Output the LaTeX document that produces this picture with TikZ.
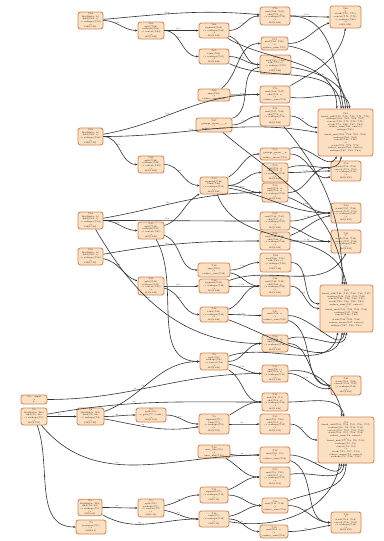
\documentclass[tikz,border=0pt]{standalone}
\usetikzlibrary{arrows.meta}
\definecolor{opfill}{RGB}{252,224,194}
\definecolor{opline}{RGB}{210,132,84}
\definecolor{edgecol}{RGB}{50,50,50}
\begin{document}
\begin{tikzpicture}[x=1pt,y=-1pt,
  op/.style={draw=opline, fill=opfill, line width=0.85pt, rounded corners=2.5pt,
    inner sep=0.6pt, align=center, font=\fontsize{2.1}{2.65}\selectfont},
  e/.style={draw=edgecol, line width=0.6pt, -{Stealth[length=2.4pt,width=2pt]}},
  lbl/.style={font=\fontsize{2}{2.3}\selectfont, text=black!80, inner sep=0.4pt, above, pos=0.4}]
\fill[white] (0,0) rectangle (383,541);
\useasboundingbox (0,0) rectangle (383,541);

% ---------- operator nodes ----------
\newcommand{\op}[5]{\node[op, minimum width=#4pt, minimum height=#5pt] (#1) at (#2) {#3};}

% column 0
\op{n5}{34,399.5}{\%0 :: input\\->\\x}{26}{9}
\op{n6}{34,416.5}{\%1\\MatMul(x, W0)\\Add(\%a, b0)\\-> reshape(\%1)\\->\\f32[1,512]}{26}{17}
% column 1
\op{n1}{90.5,20.5}{\%62\\MatMul(a, b)\\Add(\%62, c)\\-> reshape(\%62)\\->\\f32[1,512]}{25}{17}
\op{n2}{90.5,136.5}{\%48\\MatMul(a, b)\\Add(\%48, c)\\-> reshape(\%48)\\->\\f32[1,512]}{25}{17}
\op{n3}{90.5,220.5}{\%34\\MatMul(a, b)\\Add(\%34, c)\\-> reshape(\%34)\\->\\f32[1,512]}{25}{17}
\op{n4}{90.5,256.5}{\%20\\MatMul(a, b)\\Add(\%20, c)\\-> reshape(\%20)\\->\\f32[1,512]}{25}{17}
\op{n7}{90.5,416.5}{\%6\\MatMul(x, W1)\\Add(\%6, b1)\\-> reshape(\%6)\\->\\f32[1,512]}{27}{17}
\op{n8}{90,507.5}{\%4\\MatMul(x, W2)\\Add(\%4, b2)\\-> reshape(\%4)\\->\\f32[1,64]}{24}{15}
\op{n9}{91,527}{\%3\\transpose(\%1)\\->\\f32[64,1]}{30}{14}
% column 2
\op{m1}{151,30.5}{\%63\\split(\%62)\\reshape(\%63)\\-> concat(\%63)\\->\\f32[1,128]}{26}{17}
\op{m2}{151,164.5}{\%49\\split(\%48)\\reshape(\%49)\\-> concat(\%49)\\->\\f32[1,128]}{26}{17}
\op{m3}{151,230.5}{\%35\\split(\%34)\\reshape(\%35)\\-> concat(\%35)\\->\\f32[1,128]}{26}{17}
\op{m4}{151,286}{\%21\\split(\%20)\\reshape(\%21)\\-> concat(\%21)\\->\\f32[1,128]}{26}{18}
\op{m5}{151,415}{\%7\\split(\%6)\\-> gelu(\%7, 'tanh')\\->\\f32[1,512]}{30}{14}
\op{m6}{151,508}{\%5\\split(\%4)\\reshape(\%5)\\-> concat(\%5)\\->\\f32[1,16]}{26}{18}
% column 3
\op{p1}{214,30.5}{\%64\\sigmoid(\%63)\\-> reshape(\%64)\\->\\f32[1,128]}{30}{15}
\op{p2}{214,56.5}{\%65\\tanh(\%63)\\-> reshape(\%65)\\->\\f32[1,128]}{30}{15}
\op{p3}{214,95}{\%66\\sum(\%63)\\->\\reduce\_sum(\%66)}{32}{12}
\op{p4}{214,125}{\%67\\gatings\_mean\_\_\_x\\->\\reduce\_mean(\%67)}{36}{14}
\op{p5}{214,185.5}{\%50\\sigmoid(\%49)\\tanh(\%49)\\-> reshape(\%50)\\->\\f32[1,128]}{28}{17}
\op{p6}{214,270}{\%36\\sum(\%35)\\->\\reduce\_sum(\%36)}{32}{14}
\op{p7}{214,286}{\%22\\sigmoid(\%21)\\-> reshape(\%22)\\->\\f32[1,128]}{30}{14}
\op{p8}{214,314.5}{\%23\\tanh(\%21)\\-> reshape(\%23)\\->\\f32[1,128]}{28}{15}
\op{p9}{214,361.5}{\%8\\split(\%6)\\reshape(\%8)\\-> concat(\%8)\\->\\f32[1,128]}{28}{17}
\op{p10}{214,424}{\%9\\sigmoid(\%7)\\tanh(\%7)\\-> reshape(\%9)\\->\\f32[1,512]}{30}{20}
\op{p11}{214,451.5}{\%10\\ones\_like(\%9)\\->\\ones\_like(\%10)}{32}{13}
\op{p12}{214,495}{\%11\\sigmoid(\%5)\\-> reshape(\%11)\\->\\f32[1,16]}{28}{16}
\op{p13}{214,519}{\%12\\tanh(\%5)\\-> reshape(\%12)\\->\\f32[1,16]}{30}{16}
% column 4
\op{q1}{275,16}{\%70\\mul(\%64, \%65)\\add(\%70, c)\\-> reshape(\%70)\\->\\f32[1,128]}{30}{18}
\op{q2}{274.5,43.5}{\%71\\mul(\%64, \%66)\\->\\reduce\_sum(\%71)}{27}{13}
\op{q3}{275.5,64.5}{\%72\\mul(\%65, \%64)\\add(\%72, c)\\-> reshape(\%72)\\->\\f32[1,128]}{31}{19}
\op{q4}{275,94.5}{\%73\\mul(\%66, \%67)\\add(\%73, c)\\->\\reduce\_sum(\%73)}{30}{17}
\op{q5}{275,116}{\%74\\mul(\%67, \%64)\\add(\%74, c)\\-> reshape(\%74)\\->\\f32[1,128]}{30}{20}
\op{q6}{275,154}{\%51\\gatings\_mean\_\_x\\->\\reduce\_mean(\%51)}{30}{12}
\op{q7}{275,172.5}{\%52\\mul(\%50, c)\\add(\%52, c)\\-> reshape(\%52)\\->\\f32[1,128]}{26}{19}
\op{q8}{275,192.5}{\%53\\mul(\%50, c)\\add(\%53, c)\\-> reshape(\%53)\\->\\f32[1,128]}{26}{19}
\op{q9}{275,221}{\%37\\mul(\%36, \%35)\\add(\%37, c)\\-> reshape(\%37)\\->\\f32[1,128]}{30}{18}
\op{q10}{275,241}{\%38\\mul(\%36, \%20)\\add(\%38, c)\\-> reshape(\%38)\\->\\f32[1,128]}{30}{18}
\op{q11}{275.5,262.5}{\%39\\mul(\%36, \%35)\\add(\%39, c)\\-> reshape(\%39)\\->\\f32[1,128]}{31}{19}
\op{q12}{275,286}{\%24\\mul(\%22, \%23)\\add(\%24, c)\\-> reshape(\%24)\\->\\f32[1,128]}{30}{20}
\op{q13}{275,315.5}{\%25\\mul(\%22, c)\\->\\reduce\_sum(\%25)}{26}{15}
\op{q14}{275,343.5}{\%26\\mul(\%23, c)\\add(\%26, c)\\-> reshape(\%26)\\->\\f32[1,128]}{26}{17}
\op{q15}{275,373.5}{\%13\\mul(\%8, c)\\add(\%13, c)\\-> reshape(\%13)\\->\\f32[1,128]}{26}{17}
\op{q16}{275,402}{\%14\\mul(\%8, \%1)\\add(\%14, c)\\-> reshape(\%14)\\->\\f32[1,128]}{26}{18}
\op{q17}{275,424}{\%15\\mul(\%9, \%10)\\add(\%15, c)\\-> reshape(\%15)\\->\\f32[1,512]}{30}{20}
\op{q18}{275,455}{\%16\\mul(\%10, \%1)\\->\\reduce\_sum(\%16)}{30}{16}
\op{q19}{275,477}{\%17\\mul(\%9, \%11)\\add(\%17, c)\\-> reshape(\%17)\\->\\f32[1,512]}{30}{20}
\op{q20}{275,505.5}{\%18\\mul(\%11, \%12)\\->\\reduce\_sum(\%18)}{26}{15}
\op{q21}{274,531.5}{\%19\\mul(\%12, c)\\->\\reduce\_sum(\%19)}{28}{13}
% column 5
\op{r1}{345.5,17}{\%80\\Y\\stack(\%70, \%71)\\concat(\%72, \%73)\\-> reshape(\%80)\\->\\f32[1,256]}{31}{22}
\op{r2}{345.5,132.5}{\%81\\fused\_add(\%70, \%72, \%74, \%71, \%73)\\reshape(\%64, \%65, \%66, \%67)\\concat(\%70, \%72, \%74, \%71)\\stack(\%73, \%66, \%67, \%64)\\reduce\_sum(\%81, axis=1)\\reshape(\%81)\\->\\fused\_mul(\%63, \%64, \%65, \%66)\\reshape(\%81, \%82)\\concat(\%82, \%64)\\->\\stack(\%70, \%72, \%74)\\reduce\_mean(\%81, axis=0)\\reshape(\%81, \%83, \%84)}{55}{47}
\op{r3}{346,171}{\%54\\stack(\%52, \%53)\\concat(\%51, \%50)\\-> reshape(\%54)\\->\\f32[1,256]}{30}{20}
\op{r4}{346,213}{\%40\\stack(\%37, \%38)\\concat(\%37, \%53)\\-> reshape(\%40)\\->\\f32[1,256]}{30}{20}
\op{r5}{346,241.5}{\%41\\Y\\stack(\%38, \%39)\\concat(\%37, \%38)\\-> reshape(\%41)\\->\\f32[1,256]}{30}{23}
\op{r6}{346.5,308.5}{\%27\\fused\_add(\%24, \%25, \%26, \%39, \%37)\\reshape(\%22, \%23, \%21, \%20)\\concat(\%24, \%26, \%39, \%25)\\stack(\%24, \%38, \%36, \%22)\\reduce\_sum(\%27, axis=1)\\->\\fused\_mul(\%21, \%22, \%23, \%36)\\reshape(\%27, \%28)\\concat(\%28, \%22)\\->\\stack(\%24, \%26, \%39)\\reduce\_mean(\%27, axis=0)\\reshape(\%27, \%29, \%30)}{53}{47}
\op{r7}{346,385.5}{\%31\\stack(\%13, \%26)\\concat(\%14, \%25)\\-> reshape(\%31)\\->\\f32[1,256]}{30}{19}
\op{r8}{346,440}{\%2\\fused\_add(\%13, \%14, \%15, \%16, \%17)\\reshape(\%8, \%9, \%10, \%11)\\concat(\%15, \%17, \%14, \%16)\\stack(\%13, \%15, \%18, \%19)\\reduce\_sum(\%2, axis=1)\\->\\fused\_mul(\%7, \%8, \%9, \%10)\\reshape(\%2, \%3)\\concat(\%3, \%9)\\->\\stack(\%15, \%17, \%19)\\reduce\_mean(\%2, axis=0)\\reshape(\%2, \%18, \%19)}{56}{46}
\op{r9}{346,522.5}{\%32\\Y\\stack(\%18, \%19)\\concat(\%20, \%12)\\-> reshape(\%32)\\->\\f32[1,256]}{30}{21}

% ---------- connectors ----------
\newcommand{\edge}[4][]{\draw[e] (#2) to[out=0,in=180,#1] node[lbl]{#4} (#3);}

% first block
\edge{n1}{m1}{12x}
\edge[out=5,in=175]{n1}{q1}{16x}
\edge{m1}{p1}{16x}
\edge{m1}{p2}{16x}
\edge{p1}{q1}{0.5x}
\edge[out=-20,in=180]{p1}{q3}{}
\edge[out=-30,in=90]{p1}{r2.110}{}
\edge{p2}{q3}{0.5x}
\edge[out=-25,in=95]{p2}{r2.100}{}
\edge[out=40,in=180]{p3}{q2}{}
\edge{p3}{q4}{0.5x}
\edge[out=10,in=180]{n2}{q4}{16x}
\edge[out=0,in=170]{n2}{r2.west}{16x}
\edge{p4}{q5}{0.5x}
\edge[out=20,in=190]{p4}{q3}{}
\edge{q1}{r1}{0.4x}
\edge[out=0,in=200]{q2}{r1}{}
\edge[out=30,in=-100]{q4}{r1.south}{}
\edge[out=0,in=100]{q1}{r2.95}{}
\edge[out=-10,in=95]{q2}{r2.90}{0.4x}
\edge[out=-10,in=95]{q3}{r2.85}{0.4x}
\edge[out=-10,in=95]{q4}{r2.80}{}
\edge[out=0,in=180]{q5}{r2.170}{0.4x}
\edge[out=-50,in=90]{q5}{r6.100}{}
\edge[out=-40,in=95]{p4}{r6.95}{}

% second block
\edge{n2}{m2}{12x}
\edge{m2}{p5}{16x}
\edge{p5}{q7}{1.2x}
\edge{p5}{q8}{1.2x}
\edge[out=-10,in=180]{p5}{r4}{}
\edge[out=-70,in=100]{p5}{r6.90}{}
\edge[out=30,in=180]{p5}{q6}{}
\edge{n3}{m3}{12x}
\edge[out=10,in=180]{n3}{q8}{16x}
\edge{n3}{q9}{16x}
\edge[out=-60,in=180]{n3}{q14}{16x}
\edge[out=20,in=-150]{m3}{p5}{}
\edge[out=-60,in=180]{m3}{p9}{}
\edge[out=-20,in=180]{m3}{p6}{}
\edge[out=0,in=200]{q6}{r3}{}
\edge[out=20,in=-120]{q6}{r2.-110}{}
\edge{q7}{r3}{1.2x}
\edge[out=20,in=-100]{q7}{r2.-100}{}
\edge[out=0,in=170]{q8}{r3}{}
\edge[out=-20,in=180]{q8}{r4}{1.2x}

% third block
\edge[out=10,in=180]{n4}{q10}{16x}
\edge[out=-10,in=160]{n4}{m4}{12x}
\edge{m4}{p7}{16x}
\edge[out=-10,in=180]{m4}{p8}{16x}
\edge{p6}{q11}{1.2x}
\edge[out=-10,in=180]{p6}{q12}{}
\edge{p7}{q12}{1.2x}
\edge[out=20,in=-120]{p7}{r5.south}{}
\edge{p8}{q13}{1.2x}
\edge[out=20,in=180]{p8}{q12}{}
\edge[out=-20,in=-100]{p8}{r6.-100}{}
\edge{q9}{r4}{1.2x}
\edge[out=-20,in=180]{q9}{r5}{}
\edge{q10}{r5}{1.2x}
\edge[out=20,in=190]{q10}{r4}{}
\edge[out=0,in=180]{q11}{r6.170}{1.2x}
\edge[out=0,in=180]{q12}{r6}{1.2x}
\edge[out=0,in=-100]{q13}{r6.-95}{}
\edge[out=20,in=-95]{q14}{r6.-90}{}
\edge{p9}{q14}{2.5x}
\edge[out=-10,in=180]{p9}{q15}{2.5x}
\edge[out=-30,in=180]{p9}{q16}{}
\edge[out=20,in=-100]{p9}{r6.-110}{}
\edge{q14}{r7}{2.5x}
\edge[out=-20,in=180]{q13}{r7}{}
\edge[out=0,in=190]{q15}{r7}{2.5x}
\edge[out=0,in=180]{n5}{q15}{8x}
\edge[out=20,in=180]{n7}{p9}{8x}
\edge[out=10,in=180]{n6}{q16}{8x}

% fourth block
\edge{n6}{n7}{4x}
\edge[out=-70,in=180]{n6}{n9}{4x}
\edge[out=-50,in=180]{n6}{q18}{4x}
\edge{n7}{m5}{8x}
\edge[out=-10,in=190]{n7}{p10}{4x}
\edge{m5}{p10}{4x}
\edge{p10}{q17}{4x}
\edge[out=30,in=180]{p10}{q16}{}
\edge[out=-10,in=180]{p11}{q18}{8x}
\edge[out=-30,in=180]{p11}{q19}{}
\edge{n8}{m6}{4x}
\edge[out=-30,in=180]{n8}{p13}{4x}
\edge[out=10,in=180]{m6}{p12}{4x}
\edge[out=-10,in=180]{m6}{p13}{4x}
\edge[out=20,in=180]{p12}{q19}{}
\edge{p12}{q20}{4x}
\edge[out=10,in=180]{p13}{q20}{}
\edge{p13}{q21}{4x}
\edge[out=0,in=100]{q16}{r8.95}{}
\edge[out=0,in=180]{q17}{r8}{4x}
\edge[out=0,in=-100]{q18}{r8.-100}{4x}
\edge[out=10,in=-95]{q19}{r8.-95}{}
\edge[out=20,in=-90]{q20}{r8.-90}{}
\edge[out=-20,in=180]{q18}{r9}{}
\edge[out=0,in=180]{q20}{r9}{4x}
\edge[out=0,in=190]{q21}{r9}{4x}
\edge[out=-10,in=-100]{p13}{r8.-105}{}
\edge[out=10,in=95]{q15}{r8.100}{}
\end{tikzpicture}
\end{document}
